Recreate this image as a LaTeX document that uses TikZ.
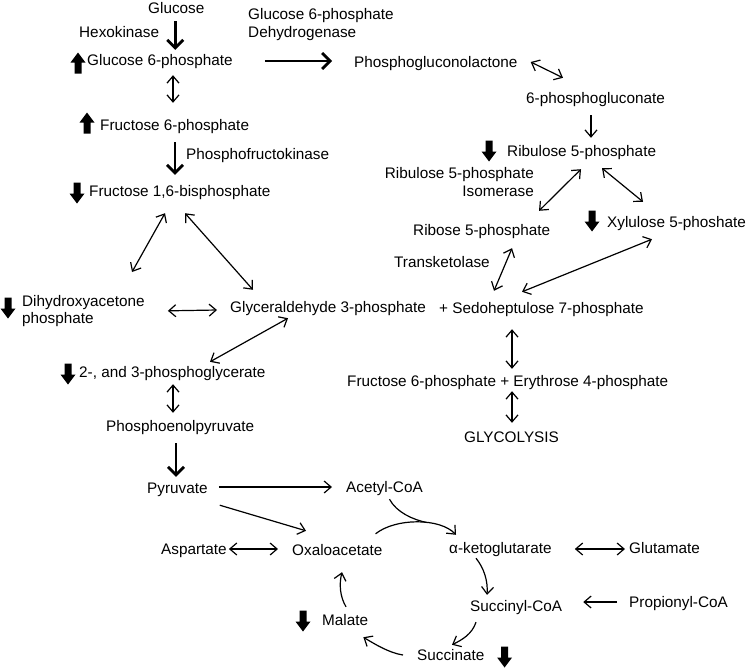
\documentclass[tikz,border=0pt]{standalone}
\usepackage{fontspec}
\setmainfont{Liberation Sans}
\usetikzlibrary{arrows.meta,calc}
\begin{document}
\begin{tikzpicture}[x=1pt,y=-1pt,
  lbl/.style={inner sep=0pt, anchor=base west, font=\fontsize{15.3}{18}\selectfont, text height=11pt, text depth=3pt},
  mlbl/.style={inner sep=0pt, font=\fontsize{15.3}{18}\selectfont},
  plainline/.style={line width=1.2pt},
  lite/.style={line width=1.2pt, -{Straight Barb[length=7pt,width=12pt]}},
  dbl/.style={line width=1.2pt, {Straight Barb[length=7pt,width=12pt]}-{Straight Barb[length=7pt,width=12pt]}},
  heavy/.style={line width=2.8pt, -{Straight Barb[length=8pt,width=16pt]}},
  bdown/.pic={\fill (-3.5,-10.5) -- (3.5,-10.5) -- (3.5,0.5) -- (7.5,0.5) -- (0,10.5) -- (-7.5,0.5) -- (-3.5,0.5) -- cycle;},
  bup/.pic={\fill (-3.5,10.5) -- (3.5,10.5) -- (3.5,-0.5) -- (7.5,-0.5) -- (0,-10.5) -- (-7.5,-0.5) -- (-3.5,-0.5) -- cycle;}
]
\useasboundingbox (0,0) rectangle (746,667);

% ---- nodes ----
\node[lbl] (glucose) at (148,13) {Glucose};
\node[lbl] (hexo) at (79,37) {Hexokinase};
\node[lbl] (g6p) at (87,65) {Glucose 6-phosphate};
\node[mlbl, anchor=north west, align=left] (g6pdh) at (248,8) {Glucose 6-phosphate\\Dehydrogenase};
\node[lbl] (pgl) at (354,67) {Phosphogluconolactone};
\node[lbl] (pg6) at (526,103) {6-phosphogluconate};
\node[lbl] (ru5p) at (507,156) {Ribulose 5-phosphate};
\node[mlbl, anchor=north east, align=right] (rpi) at (534,167) {Ribulose 5-phosphate\\Isomerase};
\node[lbl] (r5p) at (413,235) {Ribose 5-phosphate};
\node[lbl] (xu5p) at (607,227) {Xylulose 5-phoshate};
\node[lbl] (tk) at (394,267) {Transketolase};
\node[lbl] (sedo) at (439,313) {+ Sedoheptulose 7-phosphate};
\node[lbl] (f6pe4p) at (347,386) {Fructose 6-phosphate + Erythrose 4-phosphate};
\node[lbl] (glyco) at (464,442) {GLYCOLYSIS};
\node[lbl] (f6p) at (100,130) {Fructose 6-phosphate};
\node[lbl] (pfk) at (186,159) {Phosphofructokinase};
\node[lbl] (f16bp) at (89,196) {Fructose 1,6-bisphosphate};
\node[mlbl, anchor=north west, align=left, font=\fontsize{15.3}{17}\selectfont] (dhap) at (22,295) {Dihydroxyacetone\\phosphate};
\node[lbl] (g3p) at (230,312) {Glyceraldehyde 3-phosphate};
\node[lbl] (pg23) at (79,377) {2-, and 3-phosphoglycerate};
\node[lbl] (pep) at (106,431) {Phosphoenolpyruvate};
\node[lbl] (pyr) at (147,493) {Pyruvate};
\node[lbl] (acoa) at (346,492) {Acetyl-CoA};
\node[lbl] (asp) at (161,554) {Aspartate};
\node[lbl] (oaa) at (292,555) {Oxaloacetate};
\node[lbl] (akg) at (449,553) {α-ketoglutarate};
\node[lbl] (glu) at (629,553) {Glutamate};
\node[lbl] (scoa) at (470,611) {Succinyl-CoA};
\node[lbl] (pcoa) at (629,607) {Propionyl-CoA};
\node[lbl] (succ) at (417,660) {Succinate};
\node[lbl] (mal) at (322,625) {Malate};

% ---- glycolysis ----
\draw[heavy] ($(glucose.south)+(-1,5)$) -- ($(glucose.south |- g6p.north)+(-1,-4)$);
\draw[heavy] ($(g6p.east)+(32,0)$) -- ($(pgl.west)+(-22,-2)$);
\draw[dbl] ($(g6p.south west)+(86,7)$) -- ($(f6p.north west)+(73,-16)$);
\draw[heavy] ($(f6p.south west)+(75,9)$) -- ($(f16bp.north west)+(86,-10)$);
\draw[dbl] ($(f16bp.south west)+(76,14)$) -- ($(dhap.north west)+(110,-23)$);
\draw[dbl] ($(f16bp.south west)+(96,14)$) -- ($(g3p.north west)+(23,-11)$);
\draw[dbl] ($(dhap.east)+(23,0)$) -- ($(g3p.west)+(-13,2)$);
\draw[dbl] ($(g3p.south west)+(58,3)$) -- ($(pg23.north west)+(131,-4)$);
\draw[dbl] ($(pg23.south west)+(94,4)$) -- ($(pep.north west)+(67,-7)$);
\draw[heavy] ($(pep.south west)+(70,9)$) -- ($(pyr.north west)+(29,-5)$);

% ---- pentose phosphate ----
\draw[dbl] ($(pgl.east)+(13,-1)$) -- ($(pg6.north west)+(37,-14)$);
\draw[lite] ($(pg6.south west)+(65,9)$) -- ($(ru5p.north west)+(84,-7)$);
\draw[dbl] ($(ru5p.south west)+(74,10)$) -- ($(r5p.north west)+(126,-13)$);
\draw[dbl] ($(ru5p.south west)+(95,9)$) -- ($(xu5p.north west)+(36,-14)$);
\draw[dbl] ($(r5p.south west)+(99,10)$) -- ($(sedo.north west)+(55,-11)$);
\draw[dbl] ($(xu5p.south west)+(45,9)$) -- ($(sedo.north west)+(83,-10)$);
\draw[dbl] ($(sedo.south west)+(73,13)$) -- ($(f6pe4p.north west)+(165,-6)$);
\draw[dbl] ($(f6pe4p.south west)+(165,2)$) -- ($(glyco.north west)+(48,-8)$);

% ---- TCA ----
\draw[lite] ($(pyr.east)+(11,-2)$) -- ($(acoa.west)+(-14,-1)$);
\draw[lite] ($(pyr.south east)+(12,9)$) -- ($(oaa.north west)+(14,-13)$);
\draw[dbl] ($(asp.east)+(2,-1)$) -- ($(oaa.west)+(-14,-2)$);
\draw[lite] ($(oaa.north east)+(-7,-10)$) .. controls +(20,-16) and +(-16,-17) .. ($(akg.north west)+(7,-7)$) coordinate[pos=0.6] (merge);
\draw[plainline] ($(acoa.south)+(5,4)$) .. controls +(7,13) and +(-14,-3) .. (merge);
\draw[dbl] ($(akg.east)+(23,0)$) -- ($(glu.west)+(-4,0)$);
\draw[lite] ($(akg.south west)+(27,2)$) .. controls +(8,10) and +(1,-14) .. ($(scoa.north west)+(17,-5)$);
\draw[lite] ($(pcoa.west)+(-12,-1)$) -- ($(scoa.east)+(21,-5)$);
\draw[lite] ($(scoa.south west)+(6,8)$) .. controls +(-4,12) and +(10,-5) .. ($(succ.north west)+(35,-4)$);
\draw[lite] ($(succ.west)+(-14,-1)$) .. controls +(-14,-2) and +(10,6) .. ($(mal.south east)+(-5,9)$);
\draw[lite] ($(mal.north west)+(24,-7)$) .. controls +(-6,-10) and +(-3,12) .. ($(oaa.south west)+(50,14)$);

% ---- up / down block arrows ----
\pic at ($(g6p.base west)+(-9,-2)$) {bup};
\pic at ($(f6p.base west)+(-13,-7)$) {bup};
\pic at ($(f16bp.base west)+(-12,-3)$) {bdown};
\pic at ($(dhap.north west)+(-14,13)$) {bdown};
\pic at ($(pg23.base west)+(-11,-3)$) {bdown};
\pic at ($(ru5p.base west)+(-18,-5)$) {bdown};
\pic at ($(xu5p.base west)+(-15,-6)$) {bdown};
\pic at ($(mal.base west)+(-19,-4)$) {bdown};
\pic at ($(succ.base east)+(20,-3)$) {bdown};
\end{tikzpicture}
\end{document}
